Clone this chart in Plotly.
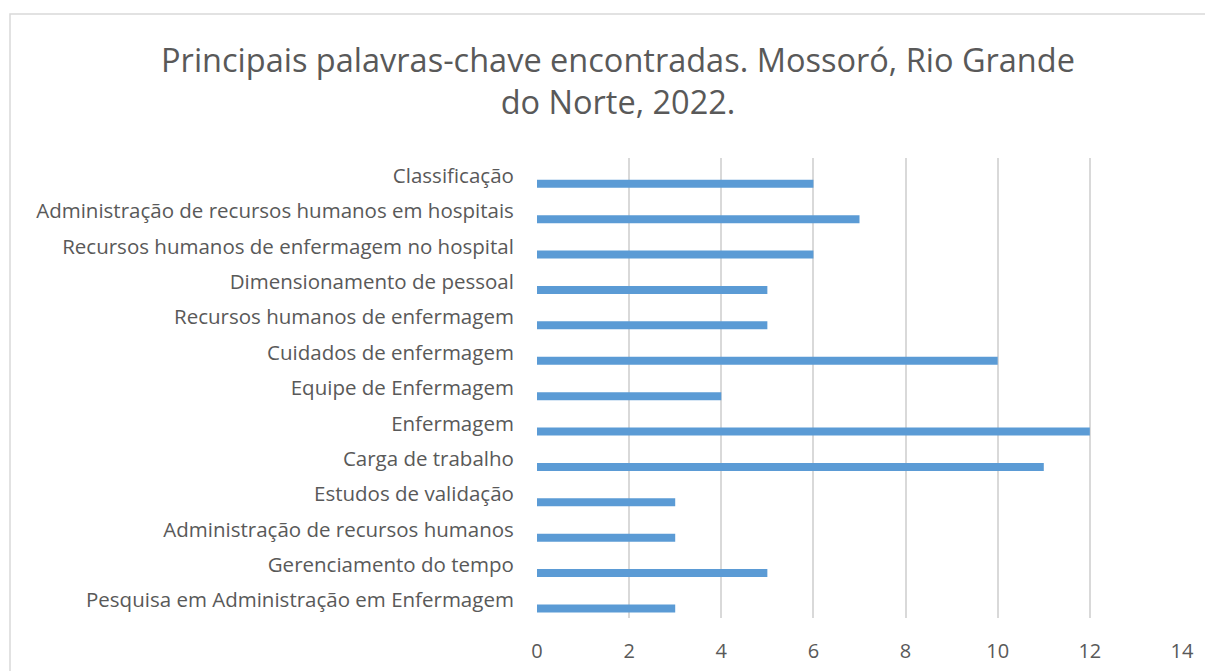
import plotly.graph_objects as go

categories = [
    "Classificação",
    "Administração de recursos humanos em hospitais",
    "Recursos humanos de enfermagem no hospital",
    "Dimensionamento de pessoal",
    "Recursos humanos de enfermagem",
    "Cuidados de enfermagem",
    "Equipe de Enfermagem",
    "Enfermagem",
    "Carga de trabalho",
    "Estudos de validação",
    "Administração de recursos humanos",
    "Gerenciamento do tempo",
    "Pesquisa em Administração em Enfermagem",
]
values = [6, 7, 6, 5, 5, 10, 4, 12, 11, 3, 3, 5, 3]
x_ticks = [0, 2, 4, 6, 8, 10, 12, 14]

title_text = "Principais palavras-chave encontradas. Mossoró, Rio Grande<br>do Norte, 2022."

W, H = 1205, 671
FONT = "Open Sans"
GREY = "#595959"

fig = go.Figure()
fig.add_trace(go.Bar(
    x=values, y=categories, orientation="h",
    marker=dict(color="#5B9BD5", line=dict(width=0)),
    width=0.226, offset=0.117,
    hoverinfo="x+y",
))

fig.update_layout(
    width=W, height=H,
    paper_bgcolor="white", plot_bgcolor="white",
    margin=dict(l=537, r=23, t=158, b=53, autoexpand=False),
    showlegend=False,
    title=dict(text=title_text, x=618 / W, xanchor="center",
               y=1 - 72 / H, yanchor="top", yref="container",
               font=dict(family=FONT, size=32.5, color=GREY)),
    font=dict(family=FONT, color=GREY, size=20.5),
    xaxis=dict(range=[0, 14], tickvals=x_ticks, showgrid=True,
               gridcolor="#D9D9D9", gridwidth=1.5, zeroline=False,
               showline=False, ticks="outside", ticklen=15,
               tickcolor="rgba(0,0,0,0)", automargin=False,
               tickfont=dict(family=FONT, size=20, color=GREY)),
    yaxis=dict(categoryorder="array", categoryarray=categories,
               autorange="reversed", showgrid=False, zeroline=False,
               showline=False, ticks="outside", ticklen=18,
               tickcolor="rgba(0,0,0,0)", automargin=False,
               tickfont=dict(family=FONT, size=20.5, color=GREY)),
    shapes=[dict(type="rect", xref="paper", yref="paper",
                 x0=(10 - 537) / (W - 537 - 23), x1=1.2,
                 y0=-0.2, y1=1 + (158 - 14) / (H - 158 - 53),
                 line=dict(color="#D9D9D9", width=1.5),
                 fillcolor="rgba(0,0,0,0)", layer="below")],
)

fig.write_html(
    "out.html",
    config={"displayModeBar": False},
    post_script="document.body.style.margin='0';document.body.style.overflow='hidden';",
)
